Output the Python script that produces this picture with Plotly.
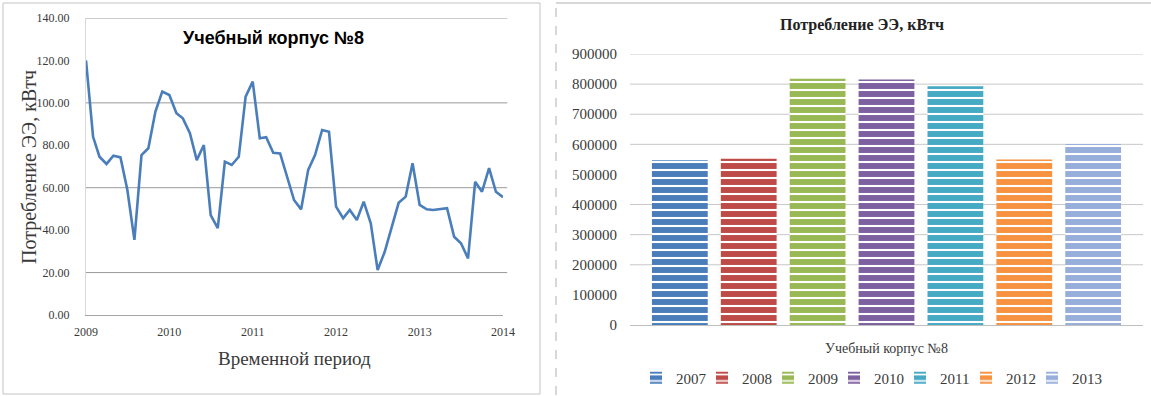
import pandas as pd
import plotly.graph_objects as go

W, H = 1151, 396

# Monthly electricity consumption of academic building No. 8, kWh
months = pd.date_range("2009-01-01", periods=61, freq="MS")
monthly_kwh = [
    120.0, 84.0, 74.6, 71.2, 75.1, 74.3, 59.0, 35.4, 75.4, 78.6, 95.9, 105.3,
    103.7, 95.1, 92.7, 85.7, 73.0, 80.1, 47.1, 40.9, 72.3, 70.7, 74.6, 102.9,
    110.0, 83.3, 83.8, 76.5, 76.2, 65.2, 54.2, 49.8, 68.4, 75.4, 87.2, 86.4,
    51.1, 45.6, 49.5, 44.8, 53.4, 43.2, 21.2, 29.8, 41.6, 52.9, 55.8, 71.5,
    51.9, 49.8, 49.5, 49.8, 50.3, 36.9, 33.8, 26.7, 62.8, 58.1, 69.2, 58.1,
    55.5,
]
monthly_grid = [20, 60, 100, 140]

# Annual consumption per year
building = "Учебный корпус №8"
years = ["2007", "2008", "2009", "2010", "2011", "2012", "2013"]
annual_kwh = [547000, 552000, 818000, 815000, 793000, 550000, 601000]
year_colors = ["#4A7EBB", "#BE4B48", "#98B954", "#7D60A0", "#46AAC5", "#F69240", "#97AEDB"]
annual_grid = [200000, 300000, 400000, 600000, 700000, 800000, 900000]

SERIF = "Liberation Serif, Times New Roman, serif"
TXT = "#3a3a3a"


def px_x(x):
    return x / W


def px_y(y):
    return (H - y) / H


fig = go.Figure()

fig.add_trace(go.Scatter(
    x=months, y=monthly_kwh, mode="lines",
    line=dict(color="#4A7EBB", width=2.6),
    xaxis="x", yaxis="y", showlegend=False,
))

for i, (yr, val, col) in enumerate(zip(years, annual_kwh, year_colors)):
    fig.add_trace(go.Bar(
        x=[building], y=[val], name=yr,
        marker=dict(color=col, line=dict(width=0),
                    pattern=dict(shape="-", fgcolor="white", bgcolor=col,
                                 size=8, solidity=0.26, fillmode="replace")),
        # last entry keeps its full text width so it is not clipped
        legendwidth=34 if i == len(years) - 1 else 21,
        xaxis="x2", yaxis="y2",
    ))

fig.update_layout(
    width=W, height=H,
    margin=dict(l=0, r=0, t=0, b=0, autoexpand=False),
    paper_bgcolor="white", plot_bgcolor="rgba(0,0,0,0)",
    barmode="group", bargap=0.06, bargroupgap=0.19,
    xaxis=dict(
        domain=[px_x(86), px_x(503)], anchor="y", automargin=False,
        type="date", range=["2009-01-01", "2014-01-01"],
        dtick="M12", tick0="2009-01-01", tickformat="%Y",
        showgrid=False, zeroline=False, ticks="",
        showline=True, linecolor="#a6a6a6", linewidth=1,
        tickfont=dict(family=SERIF, size=12, color=TXT),
        ticklabelstandoff=6,
    ),
    yaxis=dict(
        domain=[px_y(315), px_y(18)], anchor="x", automargin=False,
        range=[0, 140], dtick=20,
        tickformat=".2f", showgrid=False, zeroline=False, ticks="",
        showline=True, linecolor="#d9d9d9", linewidth=1,
        tickfont=dict(family=SERIF, size=12, color=TXT),
        ticklabelstandoff=13,
    ),
    xaxis2=dict(
        domain=[px_x(630), px_x(1143)], anchor="y2", automargin=False,
        showgrid=False, zeroline=False, ticks="",
        showline=True, linecolor="#bfbfbf", linewidth=1,
        tickfont=dict(family=SERIF, size=14, color=TXT),
        ticklabelstandoff=10,
    ),
    yaxis2=dict(
        domain=[px_y(325), px_y(54)], anchor="x2", automargin=False,
        range=[0, 900000], dtick=100000,
        showgrid=False, zeroline=False, ticks="", showline=False,
        tickformat="d",
        tickfont=dict(family=SERIF, size=15, color=TXT),
        ticklabelstandoff=12,
    ),
    legend=dict(
        orientation="h", x=px_x(636), xanchor="left", y=px_y(378), yanchor="middle",
        font=dict(family=SERIF, size=15, color=TXT),
        itemwidth=30, entrywidth=21, entrywidthmode="pixels",
        bgcolor="rgba(0,0,0,0)",
    ),
)

# Horizontal gridlines
for v in monthly_grid:
    fig.add_shape(type="line", xref="x domain", yref="y", x0=0, x1=1.01, y0=v, y1=v,
                  line=dict(color="#9a9a9a", width=1), layer="below")
for v in annual_grid:
    fig.add_shape(type="line", xref="x2 domain", yref="y2", x0=0, x1=1, y0=v, y1=v,
                  line=dict(color="#c8c8c8", width=1), layer="below")


def label(text, x, y, size, color=TXT, family=SERIF, angle=0):
    fig.add_annotation(
        text=text, x=px_x(x), y=px_y(y), xref="paper", yref="paper",
        xanchor="center", yanchor="middle", showarrow=False, textangle=angle,
        font=dict(family=family, size=size, color=color),
    )


label("<b>Учебный корпус №8</b>", 273, 38, 18, "black", "Liberation Sans, Arial, sans-serif")
label("Потребление ЭЭ, кВтч", 29, 167, 20, angle=-90)
label("Временной период", 294, 358, 19)
label("<b>Потребление ЭЭ, кВтч</b>", 862, 25, 16, "#222222")

# Chart frames
fig.add_shape(type="rect", xref="paper", yref="paper",
              x0=px_x(3), x1=px_x(540), y0=px_y(394), y1=px_y(3),
              line=dict(color="#c4c4c4", width=1))
fig.add_shape(type="line", xref="paper", yref="paper",
              x0=px_x(556), x1=px_x(556), y0=px_y(395), y1=px_y(3),
              line=dict(color="#b0b0b0", width=1, dash="dash"))
fig.add_shape(type="line", xref="paper", yref="paper",
              x0=px_x(556), x1=px_x(1151), y0=px_y(3), y1=px_y(3),
              line=dict(color="#b0b0b0", width=1))

fig.write_html("out.html")
